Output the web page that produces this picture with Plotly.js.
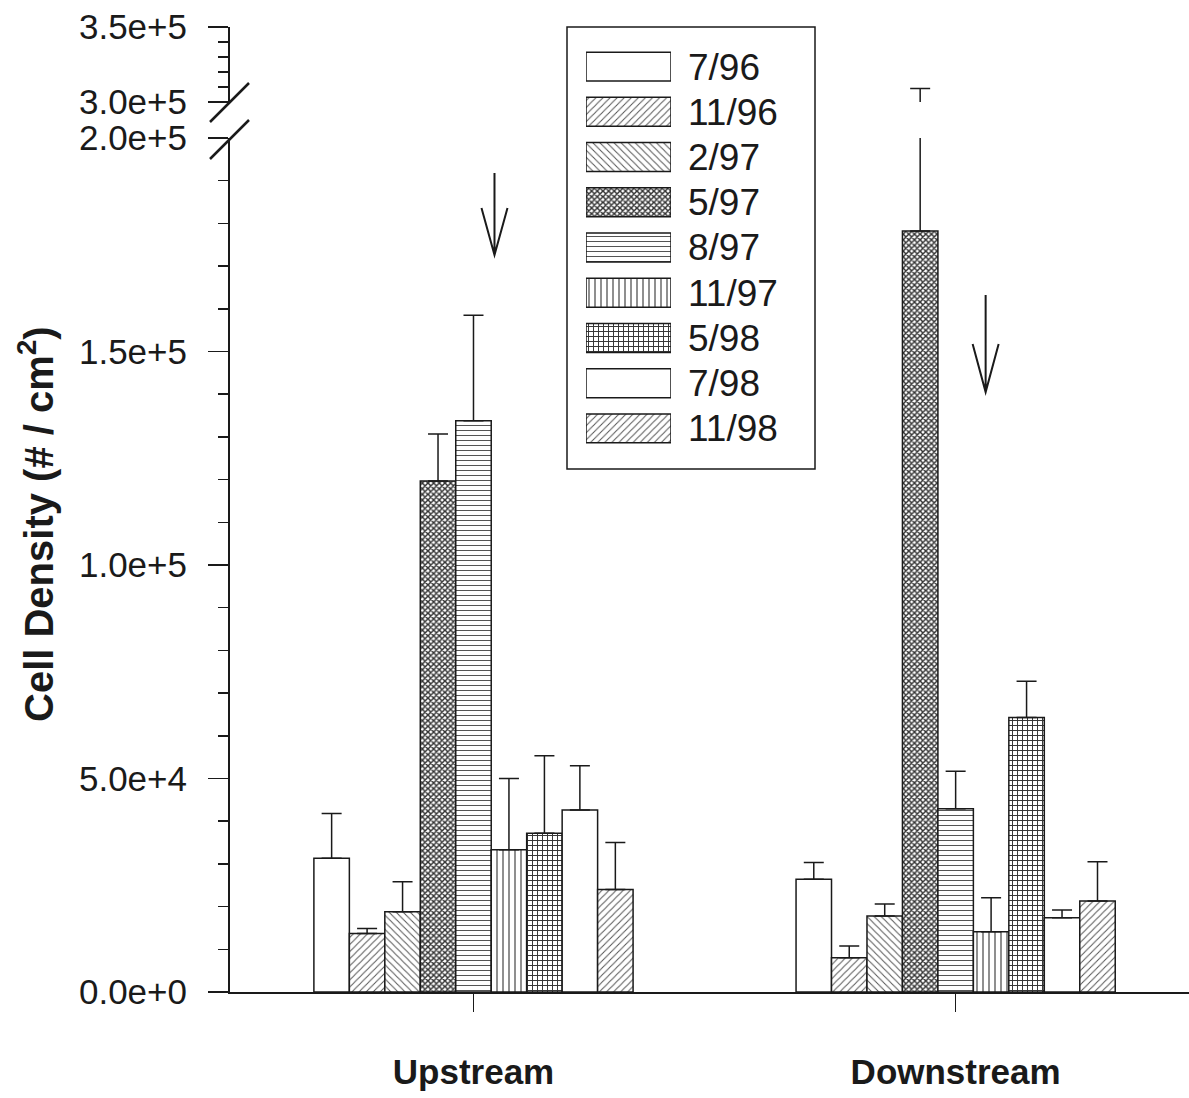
<!DOCTYPE html>
<html><head><meta charset="utf-8">
<script src="https://cdn.plot.ly/plotly-3.0.1.min.js"></script>
<style>html,body{margin:0;padding:0;background:#fff}</style>
</head><body>
<div id="chart" style="width:1189px;height:1098px"></div>
<script>
// ---- data ----
const sites = ['Upstream', 'Downstream'];
const seriesNames = ['7/96', '11/96', '2/97', '5/97', '8/97', '11/97', '5/98', '7/98', '11/98'];
const jul96 = [31300, 26400];   const jul96Err = [10500, 3900];
const nov96 = [13700, 8000];    const nov96Err = [1200, 2800];
const feb97 = [18800, 17800];   const feb97Err = [7000, 2800];
const may97 = [119700, 178200]; const may97Err = [11000, 130800];
const aug97 = [133800, 42900];  const aug97Err = [24700, 8800];
const nov97 = [33300, 14100];   const nov97Err = [16700, 8000];
const may98 = [37200, 64300];   const may98Err = [18100, 8500];
const jul98 = [42600, 17400];   const jul98Err = [10400, 1800];
const nov98 = [24000, 21300];   const nov98Err = [11000, 9200];
const arrowSites = ['Upstream', 'Downstream'];
const arrowTips = [172600, 140500];
const lowerRange = [0, 200000];
const upperRange = [300000, 350000];

const seriesValues = [jul96, nov96, feb97, may97, aug97, nov97, may98, jul98, nov98];
const seriesErrors = [jul96Err, nov96Err, feb97Err, may97Err, aug97Err, nov97Err, may98Err, jul98Err, nov98Err];

// ---- styles ----
const INK = '#1a1a1a';
const FONT = 'Liberation Sans, Arial, Helvetica, sans-serif';
const patterns = [
  {shape: '',  size: 6, solidity: 0.3,  fgcolor: '#444'},
  {shape: '/', size: 5, solidity: 0.2,  fgcolor: '#555'},
  {shape: '\\', size: 5, solidity: 0.2, fgcolor: '#555'},
  {shape: 'x', size: 4, solidity: 0.6,  fgcolor: '#333'},
  {shape: '-', size: 5, solidity: 0.2,  fgcolor: '#555'},
  {shape: '|', size: 6, solidity: 0.2,  fgcolor: '#444'},
  {shape: '+', size: 5, solidity: 0.35, fgcolor: '#333'},
  {shape: '',  size: 6, solidity: 0.3,  fgcolor: '#444'},
  {shape: '/', size: 5, solidity: 0.2,  fgcolor: '#555'}
];

const W = 1189, H = 1098;
const M = {l: 230, r: 0, t: 27, b: 106};
const plotH = H - M.t - M.b, plotW = W - M.l - M.r;
const py = p => (H - M.b - p) / plotH;   // pixel row -> paper y
const px = p => (p - M.l) / plotW;       // pixel col -> paper x
const domLow = [0, py(138)];
const domUp = [py(102), 1];

const traces = [];
seriesNames.forEach((name, i) => {
  ['y', 'y2'].forEach(ya => {
    traces.push({
      type: 'bar', name: name, x: sites, y: seriesValues[i],
      xaxis: 'x', yaxis: ya, showlegend: false, hoverinfo: 'name+y',
      marker: {
        color: '#fff',
        line: {color: INK, width: 1.5},
        pattern: Object.assign({bgcolor: '#fff', fillmode: 'replace'}, patterns[i])
      },
      error_y: {
        type: 'data', symmetric: false, array: seriesErrors[i],
        arrayminus: seriesErrors[i].map(() => 0),
        color: INK, thickness: 1.5, width: 10
      }
    });
  });
});

// legend drawn as a small bar chart
traces.push({
  type: 'bar', orientation: 'h', y: seriesNames, x: seriesNames.map(() => 1),
  xaxis: 'x3', yaxis: 'y3', showlegend: false, hoverinfo: 'y', width: 0.64,
  marker: {
    color: '#fff', line: {color: INK, width: 1.5},
    pattern: {
      shape: patterns.map(p => p.shape), size: patterns.map(p => p.size),
      solidity: patterns.map(p => p.solidity), fgcolor: patterns.map(p => p.fgcolor),
      bgcolor: '#fff', fillmode: 'replace'
    }
  }
});

const yCommon = {
  showline: true, linecolor: INK, linewidth: 2, ticks: 'outside', ticklen: 20, tickwidth: 1.5,
  tickcolor: INK, dtick: 50000, tickformat: '.1e', tickfont: {size: 35, color: INK},
  minor: {dtick: 10000, ticks: 'outside', ticklen: 10, tickwidth: 1.5, tickcolor: INK, showgrid: false},
  showgrid: false, zeroline: false, anchor: 'x', ticklabelstandoff: 14, fixedrange: true
};

const shapes = [
  // legend box
  {type: 'rect', xref: 'paper', yref: 'paper', x0: px(567), x1: px(815), y0: py(469), y1: py(27),
   line: {color: INK, width: 1.5}, fillcolor: 'rgba(0,0,0,0)'},
  // axis break slashes
  {type: 'line', xref: 'paper', yref: 'paper', xsizemode: 'pixel', ysizemode: 'pixel',
   xanchor: 0, yanchor: domLow[1], x0: -20, x1: 19, y0: -21, y1: 18, line: {color: INK, width: 2.5}},
  {type: 'line', xref: 'paper', yref: 'paper', xsizemode: 'pixel', ysizemode: 'pixel',
   xanchor: 0, yanchor: domUp[0], x0: -20, x1: 19, y0: -20, y1: 19, line: {color: INK, width: 2.5}}
];
const arrowPaths = ['M21,82 L21,0 M8,47 L21,0 L34,47', 'M30,97 L30,0 M17,48 L30,0 L43,48'];
arrowSites.forEach((s, k) => {
  shapes.push({type: 'path', xref: 'x', yref: 'y', xsizemode: 'pixel', ysizemode: 'pixel',
    xanchor: sites.indexOf(s), yanchor: arrowTips[k], path: arrowPaths[k],
    line: {color: INK, width: 2}});
});

const layout = {
  width: W, height: H, margin: M, paper_bgcolor: '#fff', plot_bgcolor: '#fff',
  font: {family: FONT, color: INK},
  barmode: 'group', bargap: 0.338, bargroupgap: 0, showlegend: false,
  xaxis: {
    type: 'category', range: [-0.505, 1.484], anchor: 'y', showline: true, linecolor: INK, linewidth: 2,
    ticks: 'outside', ticklen: 18, tickwidth: 1.5, tickcolor: INK,
    tickfont: {size: 35, weight: 'bold', color: INK}, ticklabelstandoff: 30,
    showgrid: false, zeroline: false, fixedrange: true
  },
  yaxis: Object.assign({}, yCommon, {domain: domLow, range: lowerRange, tick0: 0}),
  yaxis2: Object.assign({}, yCommon, {domain: domUp, range: upperRange, tick0: 300000}),
  xaxis3: {domain: [px(586), px(671)], range: [0, 1], anchor: 'y3', visible: false, fixedrange: true},
  yaxis3: {domain: [py(451), py(44)], anchor: 'x3', side: 'right', type: 'category',
    categoryorder: 'array', categoryarray: seriesNames, range: [8.5, -0.5],
    showline: false, ticks: '', showgrid: false, zeroline: false, ticklabelstandoff: 16,
    tickfont: {size: 37, color: INK}, fixedrange: true},
  shapes: shapes,
  annotations: [{
    xref: 'paper', yref: 'paper', x: px(36), y: py(524), xanchor: 'center', yanchor: 'middle',
    text: '<b>Cell Density (# / cm<sup>2</sup>)</b>', textangle: -90, showarrow: false,
    font: {size: 40, color: INK}
  }]
};

Plotly.newPlot('chart', traces, layout, {displayModeBar: false, staticPlot: true});
</script>
</body></html>
